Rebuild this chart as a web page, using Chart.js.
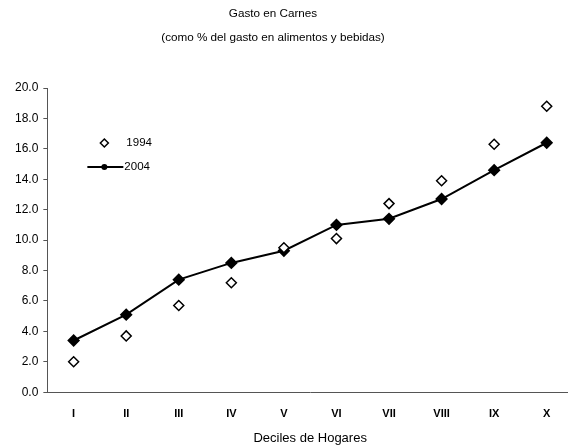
<!DOCTYPE html>
<html>
<head>
<meta charset="utf-8">
<script src="https://cdn.jsdelivr.net/npm/chart.js@4/dist/chart.umd.min.js"></script>
<style>
  html, body { margin: 0; padding: 0; background: #fff; overflow: hidden; }
  #wrap { position: relative; width: 568px; height: 446px; overflow: hidden; }
  #title {
    position: absolute; left: 0; top: 1px; width: 546px;
    text-align: center; font: 11.7px 'Liberation Sans', Arial, sans-serif;
    line-height: 24px; color: #000;
  }
  canvas { position: absolute; left: 0; top: 0; }
</style>
</head>
<body>
<div id="wrap">
  <canvas id="chart" width="580" height="446"></canvas>
  <div id="title">Gasto en Carnes<br>(como % del gasto en alimentos y bebidas)</div>
</div>
<script>
const deciles = ["I", "II", "III", "IV", "V", "VI", "VII", "VIII", "IX", "X"];
const gasto1994 = [2.0, 3.7, 5.7, 7.2, 9.5, 10.1, 12.4, 13.9, 16.3, 18.8];
const gasto2004 = [3.4, 5.1, 7.4, 8.5, 9.3, 11.0, 11.4, 12.7, 14.6, 16.4];
const yTicks = [0, 2, 4, 6, 8, 10, 12, 14, 16, 18, 20];

const FONT = "'Liberation Sans', Arial, sans-serif";

// legend drawn inside the plot, upper left
const innerLegend = {
  id: "innerLegend",
  afterDraw(chart) {
    const ctx = chart.ctx;
    const x0 = chart.chartArea.left;
    const y0 = chart.chartArea.top;
    ctx.save();
    ctx.font = "11.5px " + FONT;
    ctx.textBaseline = "middle";

    // 1994: open diamond
    let cy = y0 + 55, cx = x0 + 57;
    ctx.beginPath();
    ctx.moveTo(cx, cy - 4); ctx.lineTo(cx + 4, cy); ctx.lineTo(cx, cy + 4); ctx.lineTo(cx - 4, cy); ctx.closePath();
    ctx.lineWidth = 1.5; ctx.strokeStyle = "#000"; ctx.fillStyle = "#fff";
    ctx.fill(); ctx.stroke();
    ctx.fillStyle = "#000";
    ctx.fillText("1994", x0 + 79, cy);

    // 2004: line with small filled marker
    cy = y0 + 79;
    ctx.beginPath();
    ctx.moveTo(x0 + 40, cy); ctx.lineTo(x0 + 76, cy);
    ctx.lineWidth = 2; ctx.stroke();
    ctx.beginPath();
    ctx.arc(cx, cy, 3, 0, Math.PI * 2);
    ctx.fill();
    ctx.fillText("2004", x0 + 77, cy);
    ctx.restore();
  }
};

new Chart(document.getElementById("chart"), {
  type: "line",
  data: {
    labels: deciles,
    datasets: [
      {
        label: "1994",
        data: gasto1994,
        showLine: false,
        pointStyle: "rectRot",
        pointRadius: 5,
        pointBorderWidth: 1.5,
        pointBackgroundColor: "#fff",
        pointBorderColor: "#000",
        borderColor: "#000"
      },
      {
        label: "2004",
        data: gasto2004,
        borderColor: "#000",
        borderWidth: 2,
        tension: 0,
        pointStyle: "rectRot",
        pointRadius: 5,
        pointBackgroundColor: "#000",
        pointBorderColor: "#000"
      }
    ]
  },
  options: {
    responsive: false,
    animation: false,
    layout: { padding: { left: 10, right: 0, top: 88, bottom: 0 } },
    plugins: {
      legend: { display: false },
      tooltip: { enabled: false },
      title: { display: false }
    },
    scales: {
      x: {
        offset: true,
        grid: { display: false },
        border: { color: "#555", dash: [5, 2], width: 1 },
        ticks: { color: "#000", font: { family: FONT, size: 11, weight: "bold" }, padding: 7 },
        title: {
          display: true,
          text: "Deciles de Hogares",
          color: "#000",
          font: { family: FONT, size: 13 },
          padding: { top: 3, bottom: 0 }
        }
      },
      y: {
        min: 0,
        max: 20,
        afterBuildTicks(axis) { axis.ticks = yTicks.map(v => ({ value: v })); },
        grid: { display: true, drawOnChartArea: false, drawTicks: true, tickLength: 4, color: "#555" },
        border: { color: "#555", dash: [3, 2], width: 1 },
        ticks: {
          color: "#000",
          font: { family: FONT, size: 12 },
          padding: 5,
          callback: v => v.toFixed(1)
        }
      }
    }
  },
  plugins: [innerLegend]
});
</script>
</body>
</html>
